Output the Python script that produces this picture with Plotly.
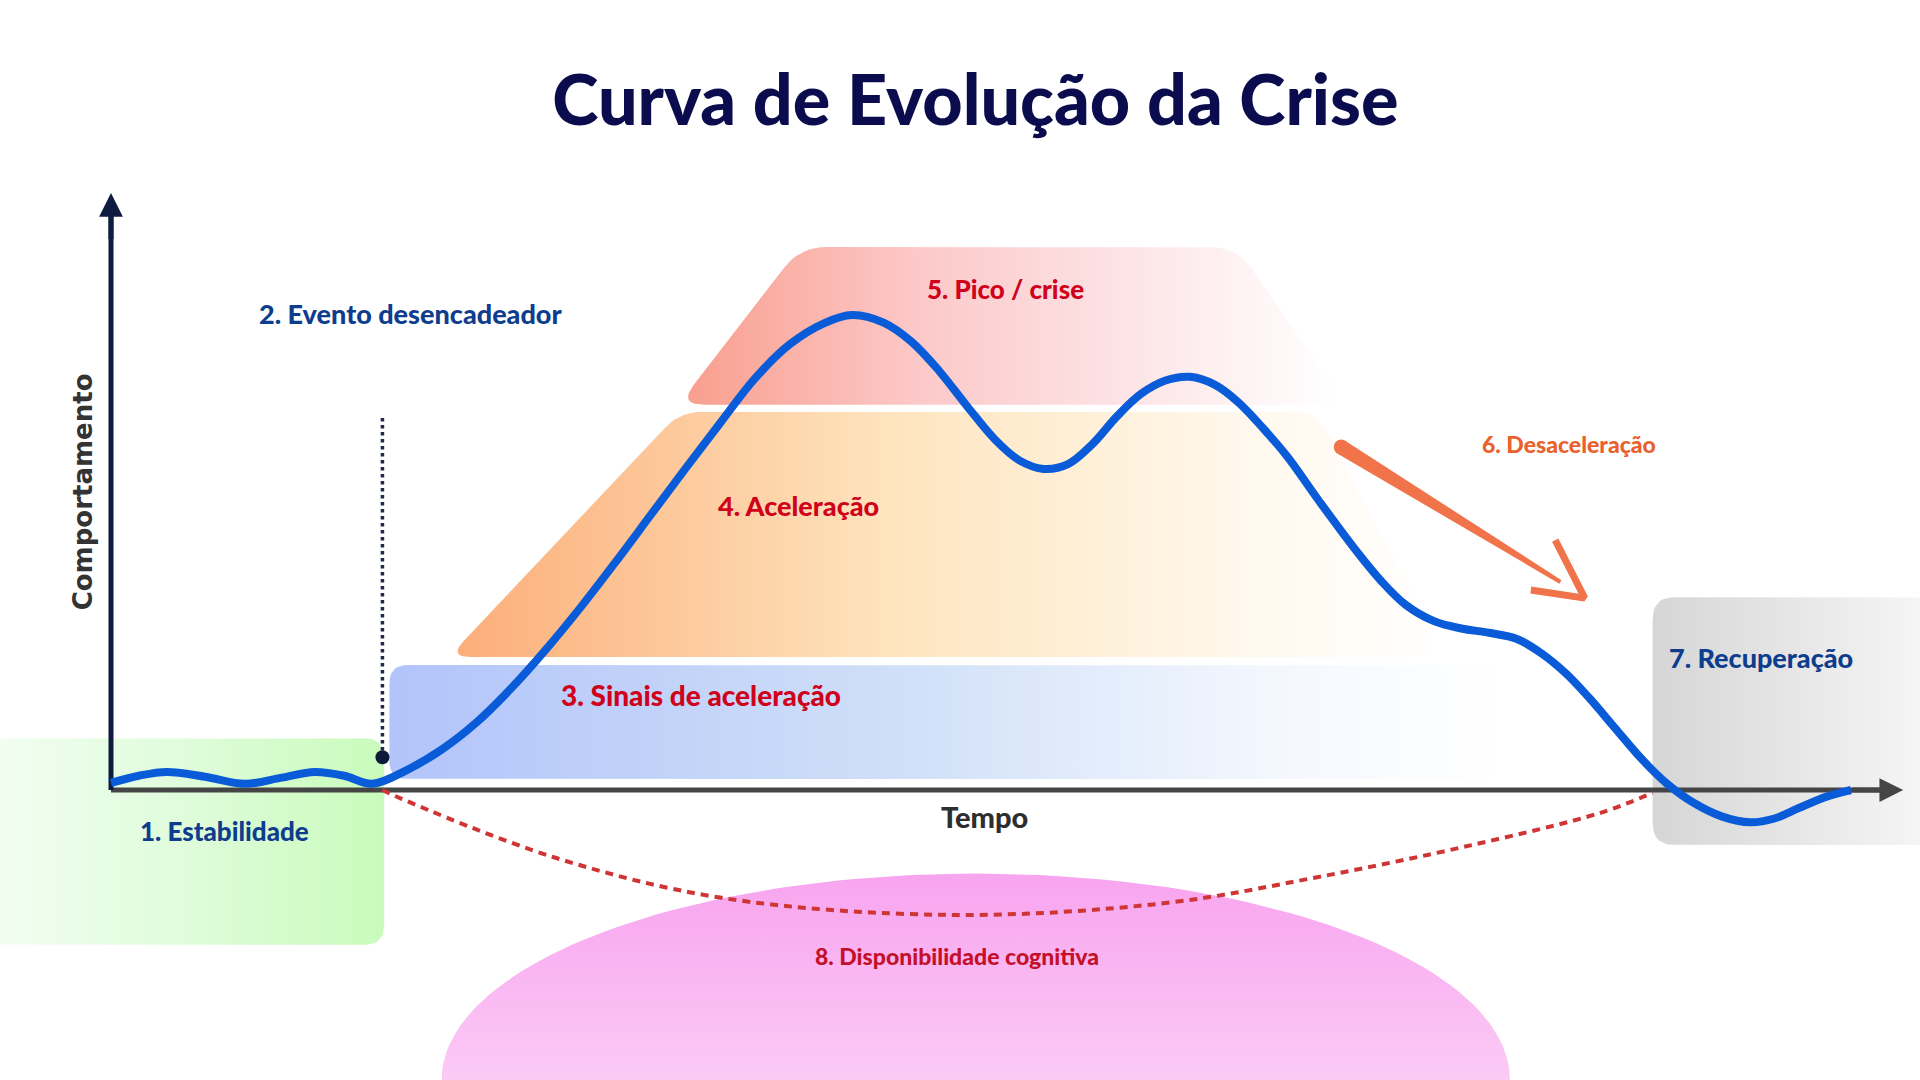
import numpy as np
import plotly.graph_objects as go

# ------------------------------------------------------------------
# DATA  (t = tempo units, b = comportamento units)
# ------------------------------------------------------------------
curve_t = [0, 1.6, 3.2, 5.4, 7.7, 9.8, 11.7, 13.4, 15.0, 17.0, 19.0, 21.0, 23.0,
           25.0, 27.0, 29.0, 31.0, 33.0, 35.0, 37.0, 39.0, 41.0, 42.6, 44.4,
           46.0, 47.6, 49.2, 50.8, 52.2, 53.6, 55.0, 56.4, 57.8, 59.2, 60.6,
           62.0, 63.4, 64.8, 66.2, 67.6, 69.4, 71.6, 73.0, 74.4, 76.0, 77.6,
           79.2, 80.8, 82.2, 83.6, 85.0, 86.4, 88.0, 89.4, 91.0, 92.6, 94.2,
           95.6, 97.0, 98.6, 100]
curve_b = [1.5, 3.0, 3.8, 2.8, 1.3, 2.6, 3.8, 3.0, 1.3, 4.2, 8.5, 14.2, 21.4,
           29.6, 38.5, 48.0, 57.8, 67.6, 77.2, 86.6, 93.8, 98.3, 100, 98.4,
           94.4, 88.2, 80.8, 73.8, 69.4, 67.6, 68.6, 72.8, 78.6, 83.4, 86.2,
           87.0, 85.4, 81.6, 76.2, 70.2, 61.0, 50.2, 44.0, 39.0, 35.6, 34.0,
           33.1, 31.8, 28.8, 24.6, 19.2, 13.2, 6.4, 1.4, -2.8, -5.6, -6.8,
           -6.0, -3.8, -1.4, 0]

cognitive_t = [15.6, 16.6, 25.4, 35.1, 48.3, 60.6, 69.4, 78.2, 85.6, 88.6]
cognitive_b = [0, -1.7, -14.1, -22.7, -26.3, -23.8, -18.3, -11.6, -4.8, -0.6]

trigger_t = [15.6, 15.6]
trigger_b = [78.3, 6.9]

# phase zones (corner points, t / b)
zone_green_t = [-8, 15.7, 15.7, -8]
zone_green_b = [10.9, 10.9, -32.6, -32.6]
zone_blue_t = [16.0, 80.0, 80.0, 16.0]
zone_blue_b = [26.3, 26.3, 2.3, 2.3]
zone_orange_t = [19.4, 32.7, 69.3, 76.7]
zone_orange_b = [28.0, 79.6, 79.6, 28.0]
zone_pink_t = [32.6, 39.6, 64.7, 71.0]
zone_pink_b = [81.1, 114.3, 114.3, 81.1]
zone_grey_t = [88.6, 106.0, 106.0, 88.6]
zone_grey_b = [40.6, 40.6, -11.6, -11.6]
ellipse_center = [49.7, -61.0]
ellipse_radii = [30.7, 43.4]

decel_shaft_t = [70.7, 83.3]
decel_shaft_b = [72.2, 43.8]
decel_head_t = [83.0, 84.7, 81.6]
decel_head_b = [52.6, 40.4, 42.1]

axis_tip_t = 103.0
axis_tip_b = 125.7

labels = ["1. Estabilidade", "2. Evento desencadeador", "3. Sinais de aceleração",
          "4. Aceleração", "5. Pico / crise", "6. Desaceleração",
          "7. Recuperação", "8. Disponibilidade cognitiva"]
label_t = [6.55, 17.2, 33.9, 39.5, 51.4, 83.8, 94.8, 48.6]
label_b = [-8.6, 100.4, 20.0, 59.8, 105.5, 72.8, 27.8, -34.9]
label_colors = ["#0e3d8e", "#0e3d8e", "#d0021b", "#d0021b", "#d0021b",
                "#e9612d", "#0e3d8e", "#c4102a"]
label_sizes = [26, 27, 28, 27, 26, 23, 27, 23]

# ------------------------------------------------------------------
# layout scale (px per unit) and axis ranges
# ------------------------------------------------------------------
W, H = 1920, 1080
X0, Y0 = 111, 790
SX, SY = 17.4, 4.75
xr = [-X0 / SX, (W - X0) / SX]
yr = [-(H - Y0) / SY, Y0 / SY]


def to_px(t, b):
    return np.array([X0 + SX * t, Y0 - SY * b])


def to_data(p):
    return ((p[0] - X0) / SX, (Y0 - p[1]) / SY)


def rounded(ts, bs, r, n=10):
    pts = [to_px(t, b) for t, b in zip(ts, bs)]
    m = len(pts)
    out = []
    for i in range(m):
        P, V, N = pts[i - 1], pts[i], pts[(i + 1) % m]
        u = (P - V) / np.linalg.norm(P - V)
        w = (N - V) / np.linalg.norm(N - V)
        A, B = V + u * r, V + w * r
        for s in np.linspace(0, 1, n):
            out.append((1 - s) ** 2 * A + 2 * (1 - s) * s * V + s ** 2 * B)
    out.append(out[0])
    d = [to_data(p) for p in out]
    return [q[0] for q in d], [q[1] for q in d]


fig = go.Figure()


def zone(ts, bs, r, scale, kind="horizontal"):
    x, y = rounded(ts, bs, r)
    fig.add_trace(go.Scatter(x=x, y=y, mode="lines", fill="toself",
                             line=dict(width=0), hoverinfo="skip",
                             fillgradient=dict(type=kind, colorscale=scale),
                             showlegend=False))


zone(zone_green_t, zone_green_b, 20,
     [[0, "#f4fef4"], [0.5, "#e0fcdc"], [1, "#c9fbbb"]])
zone(zone_blue_t, zone_blue_b, 18,
     [[0, "#b2c4fa"], [0.45, "#cfdff8"], [0.8, "#f4f8fe"], [1, "#ffffff"]])
zone(zone_orange_t, zone_orange_b, 22,
     [[0, "#fcae7a"], [0.45, "#fee5bf"], [0.8, "#fff8ec"], [1, "#ffffff"]])
zone(zone_pink_t, zone_pink_b, 26,
     [[0, "#f99f8e"], [0.35, "#fcc8c8"], [0.7, "#fde6e8"], [1, "#ffffff"]])
zone(zone_grey_t, zone_grey_b, 22,
     [[0, "#d6d6d6"], [1, "#f9f9f9"]])

# ellipse (cognitive availability)
th = np.linspace(0, 2 * np.pi, 200)
fig.add_trace(go.Scatter(
    x=ellipse_center[0] + ellipse_radii[0] * np.cos(th),
    y=ellipse_center[1] + ellipse_radii[1] * np.sin(th),
    mode="lines", fill="toself", line=dict(width=0), hoverinfo="skip",
    fillgradient=dict(type="vertical",
                      colorscale=[[0, "#fdeafb"], [0.5, "#fbcaf5"], [1, "#f8a4ef"]]),
    showlegend=False))

# axes shafts
fig.add_trace(go.Scatter(x=[0, axis_tip_t - 1], y=[0, 0], mode="lines",
                         line=dict(color="#454545", width=5), hoverinfo="skip",
                         showlegend=False))
fig.add_trace(go.Scatter(x=[0, 0], y=[0, axis_tip_b - 4], mode="lines",
                         line=dict(color="#0e1c40", width=5), hoverinfo="skip",
                         showlegend=False))

# cognitive availability dashed curve
fig.add_trace(go.Scatter(x=cognitive_t, y=cognitive_b, mode="lines",
                         line=dict(color="#cf3535", width=4, dash="8px,6px",
                                   shape="spline"),
                         hoverinfo="skip", showlegend=False))

# trigger dotted line + dot
fig.add_trace(go.Scatter(x=trigger_t, y=trigger_b, mode="lines",
                         line=dict(color="#1e2a4a", width=3.5, dash="dot"),
                         hoverinfo="skip", showlegend=False))
fig.add_trace(go.Scatter(x=[trigger_t[1]], y=[trigger_b[1]], mode="markers",
                         marker=dict(color="#0d1a3a", size=14),
                         hoverinfo="skip", showlegend=False))

# main curve
fig.add_trace(go.Scatter(x=curve_t, y=curve_b, mode="lines",
                         line=dict(color="#0a5bd8", width=8, shape="spline",
                                   smoothing=1.0),
                         hoverinfo="skip", showlegend=False))

# deceleration arrow (tapered shaft + open head)
S = to_px(decel_shaft_t[0], decel_shaft_b[0])
E = to_px(decel_shaft_t[1], decel_shaft_b[1])
d = (E - S) / np.linalg.norm(E - S)
nrm = np.array([-d[1], d[0]])
w0, w1 = 15, 4
poly = [S + nrm * w0 / 2, E + nrm * w1 / 2, E - nrm * w1 / 2, S - nrm * w0 / 2, S + nrm * w0 / 2]
pd_ = [to_data(p) for p in poly]
fig.add_trace(go.Scatter(x=[p[0] for p in pd_], y=[p[1] for p in pd_], mode="lines",
                         fill="toself", fillcolor="#f0734a", line=dict(width=0),
                         hoverinfo="skip", showlegend=False))
fig.add_trace(go.Scatter(x=[decel_shaft_t[0]], y=[decel_shaft_b[0]], mode="markers",
                         marker=dict(color="#f0734a", size=w0),
                         hoverinfo="skip", showlegend=False))
fig.add_trace(go.Scatter(x=decel_head_t, y=decel_head_b, mode="lines",
                         line=dict(color="#f0734a", width=7),
                         hoverinfo="skip", showlegend=False))

annotations = []
# arrow heads of axes
annotations.append(dict(x=axis_tip_t, y=0, ax=axis_tip_t - 3, ay=0, xref="x", yref="y",
                        axref="x", ayref="y", showarrow=True, arrowhead=2,
                        arrowsize=0.95, arrowwidth=5, arrowcolor="#454545", text=""))
annotations.append(dict(x=0, y=axis_tip_b, ax=0, ay=axis_tip_b - 10, xref="x", yref="y",
                        axref="x", ayref="y", showarrow=True, arrowhead=2,
                        arrowsize=0.95, arrowwidth=5, arrowcolor="#0e1c40", text=""))

for txt, t, b, c, s in zip(labels, label_t, label_b, label_colors, label_sizes):
    annotations.append(dict(x=t, y=b, xref="x", yref="y", text=txt, showarrow=False,
                            xanchor="center", yanchor="middle",
                            font=dict(family="Lato", size=s, color=c, weight=900)))

annotations.append(dict(x=50.2, y=-5.5, xref="x", yref="y", text="Tempo",
                        showarrow=False, font=dict(family="Lato", size=29,
                                                   color="#2e2e2e", weight=900)))
annotations.append(dict(x=-1.6, y=62.7, xref="x", yref="y", text="Comportamento",
                        showarrow=False, textangle=-90,
                        font=dict(family="DejaVu Sans", size=26, color="#333333",
                                  weight="bold")))

fig.update_layout(
    width=W, height=H,
    margin=dict(l=0, r=0, t=0, b=0),
    paper_bgcolor="white", plot_bgcolor="white",
    xaxis=dict(range=xr, visible=False, fixedrange=True),
    yaxis=dict(range=yr, visible=False, fixedrange=True),
    title=dict(text="Curva de Evolução da Crise", x=0.508, y=0.907,
               xanchor="center", yanchor="middle",
               font=dict(family="Lato", size=70, color="#0b0c4d", weight=900)),
    annotations=annotations,
    showlegend=False,
)

fig.write_html("out.html", config={"displayModeBar": False},
               post_script="document.body.style.margin='0';document.body.style.overflow='hidden';")
